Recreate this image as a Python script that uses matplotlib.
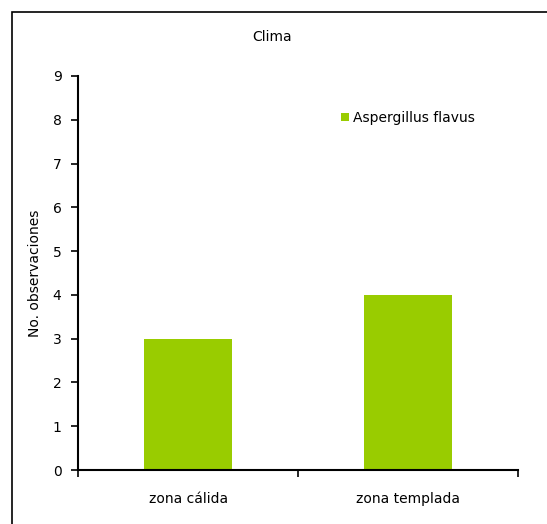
import matplotlib.pyplot as plt
from matplotlib.patches import Rectangle

plt.rcParams['font.family'] = ['DejaVu Sans']

categories = ['zona cálida', 'zona templada']
values = [3, 4]
series_name = 'Aspergillus flavus'
bar_color = '#99CC00'

fig = plt.figure(figsize=(5.47, 5.24), dpi=100)

# marco exterior
fig.patches.append(Rectangle((0.022, -0.05), 1.1, 1.028, transform=fig.transFigure,
                             fill=False, edgecolor='black', linewidth=1.2, clip_on=False))

ax = fig.add_axes([0.143, 0.103, 0.804, 0.752])
x = list(range(len(categories)))
ax.bar(x, values, width=0.4, color=bar_color, label=series_name)

ax.set_xlim(-0.5, 1.5)
ax.set_ylim(0, 9)
ax.set_yticks(range(0, 10))
ax.set_xticks([-0.5, 0.5, 1.5])
ax.set_xticklabels([])
ax.set_xticks(x, minor=True)
ax.set_xticklabels(categories, minor=True)
ax.tick_params(axis='x', which='minor', length=0, pad=16, labelsize=10)
ax.tick_params(axis='x', which='major', length=5, width=1.2, direction='out')
ax.tick_params(axis='y', length=5, width=1.2, direction='out', labelsize=10, pad=7)

for s in ['top', 'right']:
    ax.spines[s].set_visible(False)
for s in ['left', 'bottom']:
    ax.spines[s].set_linewidth(1.5)

ax.set_ylabel('No. observaciones', fontsize=10, labelpad=8)
fig.text(0.497, 0.929, 'Clima', ha='center', va='center', fontsize=10)

ax.legend(loc='center left', bbox_to_anchor=(0.6, 0.775), bbox_transform=fig.transFigure,
          frameon=False, fontsize=10, handlelength=0.6, handleheight=0.6, handletextpad=0.3)

plt.savefig('out.png', dpi=100)
